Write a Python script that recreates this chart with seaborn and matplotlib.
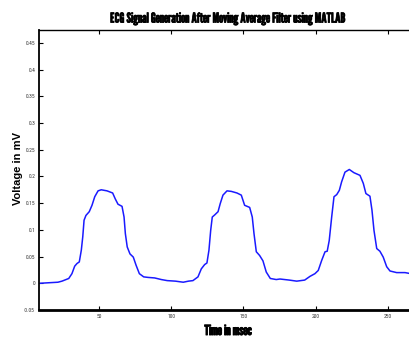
import matplotlib
matplotlib.use("Agg")
import matplotlib.pyplot as plt
import matplotlib.patheffects as pe
import seaborn as sns
import pandas as pd

# Data
time_ms = [9.0, 21.6, 24.4, 29.1, 31.3, 33.2, 34.8, 36.4, 37.8, 38.8, 39.7, 41.0, 43.3, 45.2,
           47.1, 49.4, 51.6, 55.6, 59.5, 61.3, 63.2, 66.0, 67.4, 68.3, 69.6, 71.5, 73.8, 75.7,
           78.0, 81.0, 84.0, 88.6, 93.2, 97.3, 103.0, 108.4, 112.0,
           115.1, 118.6, 120.9, 123.2, 124.8, 126.2, 127.4, 128.5, 130.2, 132.5, 134.0, 135.9,
           138.7, 141.7, 145.6, 148.6, 150.9, 154.4, 156.2, 157.4, 159.0, 161.3, 163.6, 165.9,
           168.7, 172.8, 175.4, 181.8, 187.0, 192.5, 196.2,
           199.6, 201.9, 204.3, 206.6, 208.1, 209.5, 211.2, 212.8, 214.7, 216.5, 218.1, 220.4,
           223.4, 226.6, 230.8, 233.1, 234.9, 237.7, 239.1, 240.5, 242.4, 244.6, 246.9, 249.3,
           251.6, 256.2, 262.0, 266.0, 270.0]
voltage_mv = [0.000, 0.002, 0.004, 0.009, 0.018, 0.032, 0.037, 0.040, 0.062, 0.087, 0.118, 0.127,
              0.134, 0.146, 0.162, 0.173, 0.175, 0.173, 0.169, 0.158, 0.148, 0.144, 0.124, 0.093,
              0.068, 0.055, 0.049, 0.034, 0.018, 0.012, 0.011, 0.010, 0.007, 0.005, 0.004, 0.002,
              0.004,
              0.005, 0.012, 0.027, 0.035, 0.038, 0.062, 0.099, 0.124, 0.128, 0.134, 0.149, 0.165,
              0.173, 0.172, 0.169, 0.165, 0.146, 0.142, 0.124, 0.093, 0.059, 0.052, 0.042, 0.021,
              0.009, 0.007, 0.008, 0.006, 0.004, 0.006, 0.013,
              0.018, 0.024, 0.043, 0.059, 0.060, 0.080, 0.124, 0.162, 0.166, 0.174, 0.190, 0.208,
              0.213, 0.207, 0.202, 0.187, 0.168, 0.163, 0.137, 0.099, 0.065, 0.060, 0.049, 0.031,
              0.023, 0.020, 0.020, 0.018, 0.018]
x_ticks = [50, 100, 150, 200, 250]
y_ticks = [-0.05, 0, 0.05, 0.1, 0.15, 0.2, 0.25, 0.3, 0.35, 0.4, 0.45]
y_tick_labels = ["-0.05", "0", "0.05", "0.1", "0.15", "0.2", "0.25", "0.3", "0.35", "0.4", "0.45"]

df = pd.DataFrame({"t": time_ms, "v": voltage_mv})

sns.set_style("white")
plt.rcParams['font.family'] = ['Liberation Sans', 'DejaVu Sans']

fig = plt.figure(figsize=(4.09, 3.39), dpi=100)
ax = fig.add_axes([39.3 / 409, 29 / 339, (416 - 39.3) / 409, (310 - 29.5) / 339])

sns.lineplot(data=df, x="t", y="v", ax=ax, sort=False, estimator=None,
             color="#1a1aff", linewidth=1.1)

ax.set_xlim(8.7, 269.6)
ax.set_ylim(-0.05, 0.475)
ax.set_xticks(x_ticks)
ax.set_xticklabels([str(v) for v in x_ticks])
ax.set_yticks(y_ticks)
ax.set_yticklabels(y_tick_labels)

ax.tick_params(axis='x', direction='in', top=True, bottom=True, length=3, width=0.8,
               labelsize=4, pad=3, colors='black')
ax.tick_params(axis='y', direction='in', left=True, right=False, length=3, width=0.8,
               labelsize=4, pad=3, colors='black')
for lab in ax.get_xticklabels() + ax.get_yticklabels():
    lab.set_family(['Roboto Condensed', 'Liberation Sans', 'DejaVu Sans'])
    lab.set_color('#333333')

for side in ['left', 'bottom', 'top']:
    ax.spines[side].set_visible(True)
    ax.spines[side].set_color('black')
ax.spines['left'].set_linewidth(1.3)
ax.spines['bottom'].set_linewidth(2.0)
ax.spines['top'].set_linewidth(1.0)
ax.spines['right'].set_visible(False)

bold_fx = [pe.Stroke(linewidth=0.5, foreground='black'), pe.Normal()]
t = ax.set_title("ECG Signal Generation After Moving Average Filter using MATLAB",
                 fontsize=9.8, pad=5.0, color='black', family=['League Gothic', 'DejaVu Sans'])
t.set_path_effects(bold_fx)
xl = ax.set_xlabel("Time in msec", fontsize=10, color='black',
                   family=['League Gothic', 'DejaVu Sans'])
xl.set_path_effects([pe.Stroke(linewidth=0.6, foreground='black'), pe.Normal()])
ax.xaxis.set_label_coords(0.501, -0.05)
ax.set_ylabel("Voltage in mV", fontsize=8, fontweight='bold', color='black',
              family=['Liberation Sans', 'DejaVu Sans'])
ax.yaxis.set_label_coords(-0.043, 0.506)

fig.savefig("out.png", dpi=100)
